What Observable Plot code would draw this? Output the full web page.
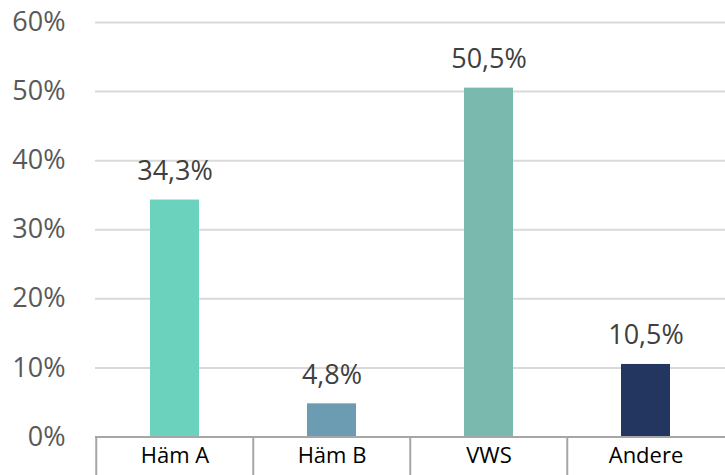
<!DOCTYPE html>
<html>
<head>
<meta charset="utf-8">
<script src="https://cdn.jsdelivr.net/npm/d3@7"></script>
<script src="https://cdn.jsdelivr.net/npm/@observablehq/plot@0.6"></script>
<style>
  html, body { margin: 0; padding: 0; background: #fff; }
  #chart svg { display: block; font-family: "Open Sans", sans-serif; }
</style>
</head>
<body>
<div id="chart"></div>
<script>
const categories = ["Häm A", "Häm B", "VWS", "Andere"];
const values = [34.3, 4.8, 50.5, 10.5];
const colors = ["#6bd2be", "#6c9cb1", "#7abaae", "#233660"];
const yTicks = [0, 10, 20, 30, 40, 50, 60];

const data = categories.map((c, i) => ({category: c, value: values[i], color: colors[i]}));
const fmt = v => v.toFixed(1).replace(".", ",") + "%";

const W = 725, H = 475, ML = 95, MR = 0;
const step = (W - ML - MR) / categories.length;

const chart = Plot.plot({
  width: W,
  height: H,
  marginLeft: ML,
  marginRight: MR,
  marginTop: 22,
  marginBottom: 38.5,
  style: {fontFamily: "Open Sans, sans-serif", background: "#fff"},
  x: {domain: categories, padding: 0, axis: null},
  y: {domain: [0, 60], axis: null},
  marks: [
    Plot.ruleY(yTicks.filter(d => d > 0), {stroke: "#d9d9d9", strokeWidth: 2}),
    Plot.barY(data, {x: "category", y: "value", fill: "color", insetLeft: 54, insetRight: 54}),
    Plot.ruleY([0], {stroke: "#a6a6a6", strokeWidth: 2}),
    Plot.ruleX(categories, {x: d => d, dx: -step / 2, y1: 0, y2: -5.6, stroke: "#a6a6a6", strokeWidth: 2}),
    Plot.text(yTicks, {x: null, y: d => d, frameAnchor: "left", dx: -30, textAnchor: "end", text: d => d + "%", fontSize: 27, fill: "#595959"}),
    Plot.text(data, {x: "category", y: "value", text: d => fmt(d.value), dy: -20, lineAnchor: "bottom", fontSize: 27, fill: "#404040"}),
    Plot.text(data, {x: "category", y: 0, text: "category", dy: 10, lineAnchor: "top", fontSize: 22, fill: "#000"})
  ]
});
document.getElementById("chart").appendChild(chart);
</script>
</body>
</html>
